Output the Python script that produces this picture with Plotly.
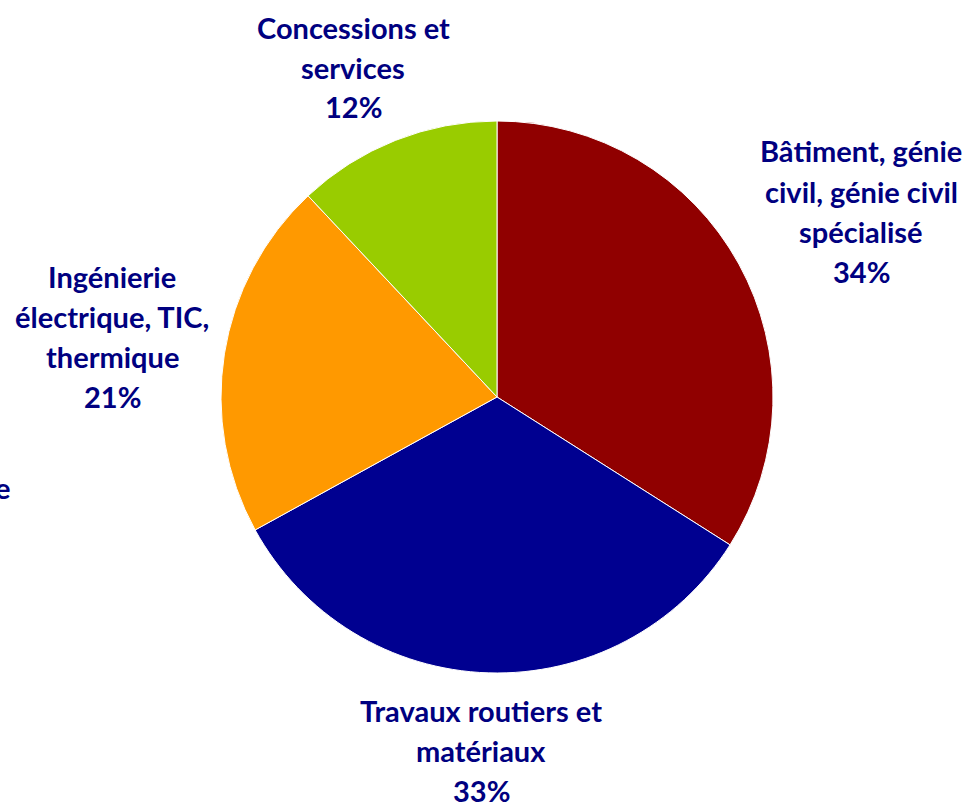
import plotly.graph_objects as go

categories = ["Bâtiment, génie civil, génie civil spécialisé",
              "Travaux routiers et matériaux",
              "Ingénierie électrique, TIC, thermique",
              "Concessions et services"]
label_lines = [["Bâtiment, génie", "civil, génie civil", "spécialisé"],
               ["Travaux routiers et", "matériaux"],
               ["Ingénierie", "électrique, TIC,", "thermique"],
               ["Concessions et", "services"]]
values = [34, 33, 21, 12]
colors = ["#900000", "#000090", "#FF9900", "#99CC00"]

W, H = 972, 803
cx, cy, r = 497, 397, 276

fig = go.Figure(go.Pie(
    labels=categories, values=values, sort=False, direction="clockwise",
    rotation=0, marker=dict(colors=colors, line=dict(color="white", width=1)),
    textinfo="none", hoverinfo="label+percent", showlegend=False,
    domain=dict(x=[(cx - r) / W, (cx + r) / W], y=[(H - cy - r) / H, (H - cy + r) / H]),
))

# label block centers (pixel x, first-line pixel y)
label_pos = [(861, 151), (481, 710), (112, 276), (353, 27)]
line_h = 40
font = dict(family="Lato, Open Sans, sans-serif", size=29, color="#000080")
annotations = []
for lines, v, (px, py) in zip(label_lines, values, label_pos):
    for i, t in enumerate(lines + [f"{v}%"]):
        annotations.append(dict(
            text=f"<b>{t}</b>", x=px / W, y=1 - (py + i * line_h) / H,
            xref="paper", yref="paper", showarrow=False,
            xanchor="center", yanchor="middle", font=font))
# clipped stray label at the left edge
annotations.append(dict(text="<b>e</b>", x=13 / W, y=1 - 487 / H, xref="paper", yref="paper",
                        showarrow=False, xanchor="right", yanchor="middle", font=font))

fig.update_layout(width=W, height=H, margin=dict(l=0, r=0, t=0, b=0),
                  paper_bgcolor="white", plot_bgcolor="white", annotations=annotations)
fig.write_html("out.html", config={"displayModeBar": False},
               post_script="document.body.style.margin='0';")
